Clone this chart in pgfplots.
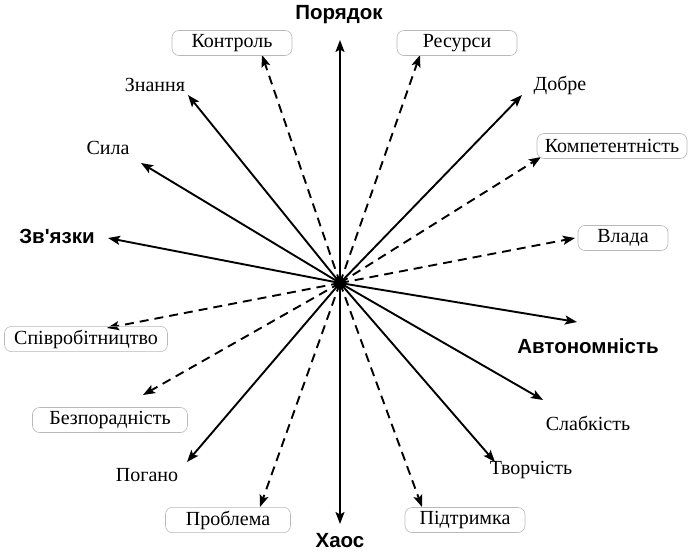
\documentclass[border=0pt]{standalone}
\usepackage{pgfplots}
\pgfplotsset{compat=1.18}
\usetikzlibrary{arrows.meta}
\usepackage{fontspec}
\setmainfont{Liberation Serif}
\newfontfamily\bsans{Liberation Sans}
\tikzset{
  sol/.style={solid, -{Stealth[length=12pt,width=9pt,inset=2.5pt]}},
  das/.style={dash pattern=on 9pt off 6pt, -{Stealth[length=12pt,width=9pt,inset=2.5pt]}},
  bx/.style={draw=gray!55, line width=0.6pt, rounded corners=7pt, inner xsep=4pt, minimum height=25pt, font=\fontsize{20}{22}\selectfont},
  lb/.style={font=\fontsize{20}{22}\selectfont},
  bl/.style={font=\bsans\bfseries\fontsize{20.5}{22}\selectfont},
}
\begin{document}
\begin{tikzpicture}
\begin{axis}[
  width=691pt, height=552pt, scale only axis,
  xmin=0, xmax=691, ymin=0, ymax=552, y dir=reverse,
  hide axis, clip=false,
  every axis plot/.append style={line width=1.9pt, black},
]
% solid arrows
\addplot[sol] coordinates {(340,283) (340,40)};
\addplot[sol] coordinates {(340,283) (340,524)};
\addplot[sol] coordinates {(340,283) (108,238)};
\addplot[sol] coordinates {(340,283) (577,322)};
\addplot[sol] coordinates {(340,283) (188,95)};
\addplot[sol] coordinates {(340,283) (141,163)};
\addplot[sol] coordinates {(340,283) (522,95)};
\addplot[sol] coordinates {(340,283) (543,400)};
\addplot[sol] coordinates {(340,283) (495,462)};
\addplot[sol] coordinates {(340,283) (187,462)};
% dashed arrows
\addplot[das] coordinates {(340,283) (262,55)};
\addplot[das] coordinates {(340,283) (420,55)};
\addplot[das] coordinates {(340,283) (541,157)};
\addplot[das] coordinates {(340,283) (575,238)};
\addplot[das] coordinates {(340,283) (107,328)};
\addplot[das] coordinates {(340,283) (143,395)};
\addplot[das] coordinates {(340,283) (260,507)};
\addplot[das] coordinates {(340,283) (422,507)};
% center blob
\addplot[only marks, mark=*, mark size=5.5pt, line width=0.5pt] coordinates {(340,283)};
% bold labels
\node[bl] at (axis cs:339,15) {Порядок};
\node[bl] at (axis cs:340,541) {Хаос};
\node[bl] at (axis cs:57,236) {Зв'язки};
\node[bl] at (axis cs:588,346) {Автономність};
% plain labels
\node[lb] at (axis cs:155,85) {Знання};
\node[lb] at (axis cs:108,148) {Сила};
\node[lb] at (axis cs:560,85) {Добре};
\node[lb] at (axis cs:588,423) {Слабкість};
\node[lb] at (axis cs:531,470) {Творчість};
\node[lb] at (axis cs:147,475) {Погано};
% boxed labels
\node[bx, minimum width=120pt] at (axis cs:232,43) {Контроль};
\node[bx, minimum width=120pt] at (axis cs:457,43) {Ресурси};
\node[bx, minimum width=150pt] at (axis cs:612,146) {Компетентність};
\node[bx, minimum width=90pt] at (axis cs:623,238) {Влада};
\node[bx, minimum width=163pt] at (axis cs:86,339) {Співробітництво};
\node[bx, minimum width=155pt] at (axis cs:110,420) {Безпорадність};
\node[bx, minimum width=125pt] at (axis cs:228,520) {Проблема};
\node[bx, minimum width=120pt] at (axis cs:465,520) {Підтримка};
\end{axis}
\pgfresetboundingbox
\path[use as bounding box] (current axis.south west) rectangle (current axis.north east);
\end{tikzpicture}
\end{document}
